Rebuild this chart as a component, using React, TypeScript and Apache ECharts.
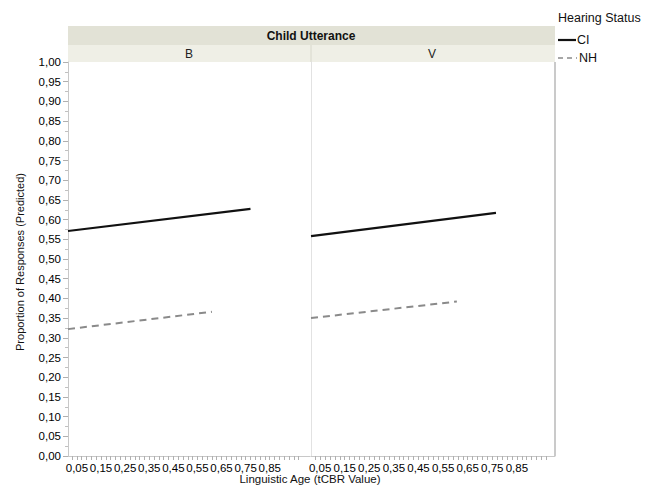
import React, { useEffect, useRef } from "react";
import * as echarts from "echarts";

const panels = ["B", "V"];
const hearingStatus = ["CI", "NH"];
const ciBx = [0.013, 0.77];
const ciBy = [0.571, 0.627];
const nhBx = [0.013, 0.61];
const nhBy = [0.322, 0.366];
const ciVx = [0.013, 0.765];
const ciVy = [0.558, 0.617];
const nhVx = [0.013, 0.606];
const nhVy = [0.35, 0.392];
const xLabelValues = [0.05, 0.15, 0.25, 0.35, 0.45, 0.55, 0.65, 0.75, 0.85];
const xTickValues = [
  0.01, 0.03, 0.05, 0.07, 0.09, 0.11, 0.13, 0.15, 0.17, 0.19, 0.21, 0.23, 0.25,
  0.27, 0.29, 0.31, 0.33, 0.35, 0.37, 0.39, 0.41, 0.43, 0.45, 0.47, 0.49, 0.51,
  0.53, 0.55, 0.57, 0.59, 0.61, 0.63, 0.65, 0.67, 0.69, 0.71, 0.73, 0.75, 0.77,
  0.79, 0.81, 0.83, 0.85, 0.87, 0.89, 0.91, 0.93, 0.95, 0.97,
];

const font = "'Liberation Sans', Arial, sans-serif";
const fmt = (v: number) => v.toFixed(2).replace(".", ",");
const pairs = (xs: number[], ys: number[]) => xs.map((x, i) => [x, ys[i]]);

export default function App() {
  const ref = useRef<HTMLDivElement>(null);
  useEffect(() => {
    const chart = echarts.init(ref.current!, null, { renderer: "svg" });
    const xAxisBase = (gridIndex: number) => ({
      type: "value",
      gridIndex,
      min: 0.013,
      max: gridIndex === 0 ? 1.017 : 1.005,
      splitLine: { show: false },
      axisLine: { show: true, lineStyle: { color: "#c8c8c8", width: 1 } },
      axisTick: {
        show: true,
        customValues: xTickValues,
        length: 4,
        lineStyle: { color: "#b0b0b0" },
      },
      axisLabel: {
        customValues: xLabelValues,
        formatter: fmt,
        color: "#000",
        fontSize: 11.5,
        fontFamily: font,
        margin: 6,
      },
    });
    const yAxisBase = (gridIndex: number) => ({
      type: "value",
      gridIndex,
      min: 0,
      max: 1,
      interval: 0.05,
      splitLine: { show: false },
      axisLine: {
        show: true,
        lineStyle: { color: gridIndex === 0 ? "#c8c8c8" : "#e2e2e2" },
      },
      axisTick: {
        show: gridIndex === 0,
        length: 5,
        lineStyle: { color: "#b0b0b0" },
      },
      minorTick: {
        show: gridIndex === 0,
        splitNumber: 2,
        length: 3,
        lineStyle: { color: "#c0c0c0" },
      },
      axisLabel: {
        show: gridIndex === 0,
        formatter: fmt,
        color: "#000",
        fontSize: 11.5,
        fontFamily: font,
        margin: 7,
      },
    });
    const ciStyle = { color: "#111", width: 2.2, type: "solid" };
    const nhStyle = { color: "#8a8a8a", width: 2, type: [7, 5] };
    chart.setOption({
      animation: false,
      backgroundColor: "#fff",
      grid: [
        { left: 68, right: 349, top: 62, bottom: 32 },
        { left: 311, right: 104, top: 62, bottom: 32 },
      ],
      xAxis: [xAxisBase(0), xAxisBase(1)],
      yAxis: [yAxisBase(0), yAxisBase(1)],
      series: [
        { name: hearingStatus[0], type: "line", xAxisIndex: 0, yAxisIndex: 0, data: pairs(ciBx, ciBy), showSymbol: false, symbol: "none", lineStyle: ciStyle },
        { name: hearingStatus[1], type: "line", xAxisIndex: 0, yAxisIndex: 0, data: pairs(nhBx, nhBy), showSymbol: false, symbol: "none", lineStyle: nhStyle },
        { name: hearingStatus[0], type: "line", xAxisIndex: 1, yAxisIndex: 1, data: pairs(ciVx, ciVy), showSymbol: false, symbol: "none", lineStyle: ciStyle },
        { name: hearingStatus[1], type: "line", xAxisIndex: 1, yAxisIndex: 1, data: pairs(nhVx, nhVy), showSymbol: false, symbol: "none", lineStyle: nhStyle },
      ],
      graphic: [
        { type: "rect", shape: { x: 68, y: 26, width: 487, height: 19 }, style: { fill: "#e2e2d6" }, z: 0 },
        { type: "rect", shape: { x: 68, y: 45, width: 487, height: 17 }, style: { fill: "#efefe6" }, z: 0 },
        { type: "line", shape: { x1: 311, y1: 45, x2: 311, y2: 62 }, style: { stroke: "#d8d8cc", lineWidth: 1 } },
        { type: "line", shape: { x1: 555, y1: 62, x2: 555, y2: 456 }, style: { stroke: "#b8b8b8", lineWidth: 1.5 } },
        { type: "text", x: 311, y: 36, style: { text: "Child Utterance", fill: "#111", font: `bold 12px ${font}`, align: "center", verticalAlign: "middle" } },
        { type: "text", x: 189, y: 54, style: { text: panels[0], fill: "#222", font: `12px ${font}`, align: "center", verticalAlign: "middle" } },
        { type: "text", x: 432, y: 54, style: { text: panels[1], fill: "#222", font: `12px ${font}`, align: "center", verticalAlign: "middle" } },
        { type: "text", x: 558, y: 18, style: { text: "Hearing Status", fill: "#111", font: `12.5px ${font}`, align: "left", verticalAlign: "middle" } },
        { type: "line", shape: { x1: 558, y1: 40, x2: 576, y2: 40 }, style: { stroke: "#111", lineWidth: 2.2 } },
        { type: "text", x: 577, y: 40, style: { text: hearingStatus[0], fill: "#111", font: `12.5px ${font}`, align: "left", verticalAlign: "middle" } },
        { type: "line", shape: { x1: 558, y1: 58, x2: 577, y2: 58 }, style: { stroke: "#8a8a8a", lineWidth: 1.6, lineDash: [5, 4] } },
        { type: "text", x: 579, y: 58, style: { text: hearingStatus[1], fill: "#111", font: `12.5px ${font}`, align: "left", verticalAlign: "middle" } },
        { type: "text", x: 310, y: 479, style: { text: "Linguistic Age (tCBR Value)", fill: "#111", font: `11.5px ${font}`, align: "center", verticalAlign: "middle" } },
        { type: "text", x: 20, y: 262, rotation: Math.PI / 2, style: { text: "Proportion of Responses (Predicted)", fill: "#111", font: `11px ${font}`, align: "center", verticalAlign: "middle" } },
      ],
    });
    return () => chart.dispose();
  }, []);
  return <div ref={ref} style={{ width: 659, height: 488, position: "absolute", left: 0, top: 0 }} />;
}
